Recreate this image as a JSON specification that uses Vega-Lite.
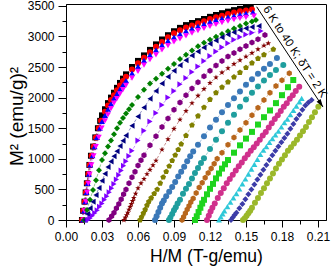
{
"$schema":"https://vega.github.io/schema/vega-lite/v6.json",
"width":260,"height":216,
"autosize":{"type":"none"},
"padding":{"left":66,"top":4,"right":8,"bottom":48},
"datasets":{
"d":[
{"t":6,"x":0.0133,"y":0},{"t":6,"x":0.0143,"y":150},{"t":6,"x":0.0154,"y":300},{"t":6,"x":0.0164,"y":450},{"t":6,"x":0.0174,"y":600},{"t":6,"x":0.0184,"y":750},{"t":6,"x":0.0195,"y":900},{"t":6,"x":0.0208,"y":1050},{"t":6,"x":0.0226,"y":1200},{"t":6,"x":0.0244,"y":1350},{"t":6,"x":0.0266,"y":1500},{"t":6,"x":0.0285,"y":1620},{"t":6,"x":0.03,"y":1710},{"t":6,"x":0.0325,"y":1810},{"t":6,"x":0.035,"y":1910},{"t":6,"x":0.0375,"y":2000},{"t":6,"x":0.04,"y":2080},{"t":6,"x":0.0425,"y":2160},{"t":6,"x":0.045,"y":2240},{"t":6,"x":0.0475,"y":2310},{"t":6,"x":0.05,"y":2380},{"t":6,"x":0.055,"y":2500},{"t":6,"x":0.06,"y":2600},{"t":6,"x":0.065,"y":2690},{"t":6,"x":0.07,"y":2780},{"t":6,"x":0.075,"y":2870},{"t":6,"x":0.08,"y":2950},{"t":6,"x":0.085,"y":3020},{"t":6,"x":0.09,"y":3085},{"t":6,"x":0.095,"y":3140},{"t":6,"x":0.1,"y":3185},{"t":6,"x":0.105,"y":3220},{"t":6,"x":0.11,"y":3250},{"t":6,"x":0.115,"y":3285},{"t":6,"x":0.12,"y":3320},{"t":6,"x":0.125,"y":3350},{"t":6,"x":0.13,"y":3380},{"t":6,"x":0.135,"y":3405},{"t":6,"x":0.14,"y":3430},{"t":6,"x":0.145,"y":3450},{"t":6,"x":0.15,"y":3468},{"t":6,"x":0.154,"y":3480},
{"t":8,"x":0.0135,"y":0},{"t":8,"x":0.0145,"y":150},{"t":8,"x":0.0156,"y":300},{"t":8,"x":0.0166,"y":450},{"t":8,"x":0.0176,"y":600},{"t":8,"x":0.0187,"y":750},{"t":8,"x":0.0197,"y":900},{"t":8,"x":0.0213,"y":1050},{"t":8,"x":0.0231,"y":1200},{"t":8,"x":0.0249,"y":1350},{"t":8,"x":0.0273,"y":1500},{"t":8,"x":0.0292,"y":1620},{"t":8,"x":0.0325,"y":1770},{"t":8,"x":0.035,"y":1870},{"t":8,"x":0.0375,"y":1960},{"t":8,"x":0.04,"y":2040},{"t":8,"x":0.0425,"y":2120},{"t":8,"x":0.045,"y":2200},{"t":8,"x":0.0475,"y":2270},{"t":8,"x":0.05,"y":2340},{"t":8,"x":0.055,"y":2460},{"t":8,"x":0.06,"y":2560},{"t":8,"x":0.065,"y":2650},{"t":8,"x":0.07,"y":2740},{"t":8,"x":0.075,"y":2830},{"t":8,"x":0.08,"y":2910},{"t":8,"x":0.085,"y":2985},{"t":8,"x":0.09,"y":3050},{"t":8,"x":0.095,"y":3100},{"t":8,"x":0.1,"y":3145},{"t":8,"x":0.105,"y":3180},{"t":8,"x":0.11,"y":3215},{"t":8,"x":0.115,"y":3250},{"t":8,"x":0.12,"y":3285},{"t":8,"x":0.125,"y":3315},{"t":8,"x":0.13,"y":3340},{"t":8,"x":0.135,"y":3365},{"t":8,"x":0.14,"y":3390},{"t":8,"x":0.145,"y":3410},{"t":8,"x":0.15,"y":3425},{"t":8,"x":0.155,"y":3440},
{"t":10,"x":0.014,"y":0},{"t":10,"x":0.015,"y":150},{"t":10,"x":0.016,"y":300},{"t":10,"x":0.0171,"y":450},{"t":10,"x":0.0181,"y":600},{"t":10,"x":0.0191,"y":750},{"t":10,"x":0.0202,"y":900},{"t":10,"x":0.022,"y":1050},{"t":10,"x":0.0238,"y":1200},{"t":10,"x":0.0258,"y":1350},{"t":10,"x":0.0282,"y":1500},{"t":10,"x":0.03,"y":1610},{"t":10,"x":0.0325,"y":1710},{"t":10,"x":0.035,"y":1810},{"t":10,"x":0.0375,"y":1900},{"t":10,"x":0.04,"y":1990},{"t":10,"x":0.0425,"y":2065},{"t":10,"x":0.045,"y":2140},{"t":10,"x":0.0475,"y":2210},{"t":10,"x":0.05,"y":2280},{"t":10,"x":0.055,"y":2400},{"t":10,"x":0.06,"y":2510},{"t":10,"x":0.065,"y":2610},{"t":10,"x":0.07,"y":2700},{"t":10,"x":0.075,"y":2780},{"t":10,"x":0.08,"y":2860},{"t":10,"x":0.085,"y":2930},{"t":10,"x":0.09,"y":2990},{"t":10,"x":0.095,"y":3040},{"t":10,"x":0.1,"y":3090},{"t":10,"x":0.105,"y":3130},{"t":10,"x":0.11,"y":3170},{"t":10,"x":0.115,"y":3205},{"t":10,"x":0.12,"y":3240},{"t":10,"x":0.125,"y":3270},{"t":10,"x":0.13,"y":3295},{"t":10,"x":0.135,"y":3320},{"t":10,"x":0.14,"y":3340},{"t":10,"x":0.145,"y":3360},{"t":10,"x":0.15,"y":3378},{"t":10,"x":0.1558,"y":3399},
{"t":12,"x":0.0145,"y":0},{"t":12,"x":0.0155,"y":150},{"t":12,"x":0.0166,"y":300},{"t":12,"x":0.0176,"y":450},{"t":12,"x":0.0186,"y":600},{"t":12,"x":0.0197,"y":750},{"t":12,"x":0.0212,"y":900},{"t":12,"x":0.023,"y":1050},{"t":12,"x":0.0249,"y":1200},{"t":12,"x":0.0273,"y":1350},{"t":12,"x":0.0297,"y":1500},{"t":12,"x":0.0325,"y":1620},{"t":12,"x":0.035,"y":1720},{"t":12,"x":0.0375,"y":1820},{"t":12,"x":0.04,"y":1910},{"t":12,"x":0.0425,"y":1985},{"t":12,"x":0.045,"y":2060},{"t":12,"x":0.0475,"y":2130},{"t":12,"x":0.05,"y":2200},{"t":12,"x":0.055,"y":2320},{"t":12,"x":0.06,"y":2430},{"t":12,"x":0.065,"y":2530},{"t":12,"x":0.07,"y":2620},{"t":12,"x":0.075,"y":2700},{"t":12,"x":0.08,"y":2780},{"t":12,"x":0.085,"y":2850},{"t":12,"x":0.09,"y":2910},{"t":12,"x":0.095,"y":2960},{"t":12,"x":0.1,"y":3010},{"t":12,"x":0.105,"y":3055},{"t":12,"x":0.11,"y":3095},{"t":12,"x":0.115,"y":3130},{"t":12,"x":0.12,"y":3165},{"t":12,"x":0.125,"y":3195},{"t":12,"x":0.13,"y":3225},{"t":12,"x":0.135,"y":3250},{"t":12,"x":0.14,"y":3275},{"t":12,"x":0.145,"y":3295},{"t":12,"x":0.15,"y":3312},{"t":12,"x":0.1567,"y":3333},
{"t":14,"x":0.015,"y":0},{"t":14,"x":0.0175,"y":165},{"t":14,"x":0.02,"y":330},{"t":14,"x":0.0225,"y":490},{"t":14,"x":0.025,"y":650},{"t":14,"x":0.0275,"y":815},{"t":14,"x":0.03,"y":980},{"t":14,"x":0.0325,"y":1090},{"t":14,"x":0.035,"y":1200},{"t":14,"x":0.0375,"y":1300},{"t":14,"x":0.04,"y":1400},{"t":14,"x":0.0425,"y":1500},{"t":14,"x":0.045,"y":1590},{"t":14,"x":0.0475,"y":1665},{"t":14,"x":0.05,"y":1740},{"t":14,"x":0.0525,"y":1810},{"t":14,"x":0.055,"y":1880},{"t":14,"x":0.06,"y":2010},{"t":14,"x":0.065,"y":2130},{"t":14,"x":0.07,"y":2230},{"t":14,"x":0.075,"y":2310},{"t":14,"x":0.08,"y":2390},{"t":14,"x":0.085,"y":2470},{"t":14,"x":0.09,"y":2550},{"t":14,"x":0.095,"y":2630},{"t":14,"x":0.1,"y":2700},{"t":14,"x":0.105,"y":2770},{"t":14,"x":0.11,"y":2840},{"t":14,"x":0.115,"y":2895},{"t":14,"x":0.12,"y":2945},{"t":14,"x":0.125,"y":2995},{"t":14,"x":0.13,"y":3040},{"t":14,"x":0.135,"y":3085},{"t":14,"x":0.14,"y":3130},{"t":14,"x":0.145,"y":3170},{"t":14,"x":0.15,"y":3210},{"t":14,"x":0.155,"y":3245},{"t":14,"x":0.1583,"y":3268},
{"t":16,"x":0.0158,"y":0},{"t":16,"x":0.018,"y":100},{"t":16,"x":0.02,"y":190},{"t":16,"x":0.0225,"y":300},{"t":16,"x":0.025,"y":410},{"t":16,"x":0.0275,"y":525},{"t":16,"x":0.03,"y":640},{"t":16,"x":0.0325,"y":755},{"t":16,"x":0.035,"y":866},{"t":16,"x":0.0375,"y":955},{"t":16,"x":0.04,"y":1040},{"t":16,"x":0.0425,"y":1125},{"t":16,"x":0.045,"y":1210},{"t":16,"x":0.0475,"y":1295},{"t":16,"x":0.05,"y":1380},{"t":16,"x":0.055,"y":1540},{"t":16,"x":0.06,"y":1690},{"t":16,"x":0.065,"y":1840},{"t":16,"x":0.07,"y":1980},{"t":16,"x":0.075,"y":2110},{"t":16,"x":0.08,"y":2230},{"t":16,"x":0.085,"y":2340},{"t":16,"x":0.09,"y":2440},{"t":16,"x":0.095,"y":2530},{"t":16,"x":0.1,"y":2610},{"t":16,"x":0.105,"y":2690},{"t":16,"x":0.11,"y":2755},{"t":16,"x":0.115,"y":2820},{"t":16,"x":0.12,"y":2880},{"t":16,"x":0.125,"y":2935},{"t":16,"x":0.13,"y":2985},{"t":16,"x":0.135,"y":3030},{"t":16,"x":0.14,"y":3070},{"t":16,"x":0.145,"y":3105},{"t":16,"x":0.15,"y":3135},{"t":16,"x":0.155,"y":3155},{"t":16,"x":0.1608,"y":3170},
{"t":18,"x":0.0183,"y":0},{"t":18,"x":0.02,"y":30},{"t":18,"x":0.022,"y":70},{"t":18,"x":0.024,"y":115},{"t":18,"x":0.026,"y":160},{"t":18,"x":0.028,"y":215},{"t":18,"x":0.03,"y":270},{"t":18,"x":0.032,"y":330},{"t":18,"x":0.034,"y":390},{"t":18,"x":0.036,"y":455},{"t":18,"x":0.038,"y":520},{"t":18,"x":0.04,"y":590},{"t":18,"x":0.042,"y":660},{"t":18,"x":0.044,"y":735},{"t":18,"x":0.046,"y":810},{"t":18,"x":0.048,"y":885},{"t":18,"x":0.05,"y":960},{"t":18,"x":0.0525,"y":1045},{"t":18,"x":0.055,"y":1130},{"t":18,"x":0.06,"y":1300},{"t":18,"x":0.065,"y":1460},{"t":18,"x":0.07,"y":1610},{"t":18,"x":0.075,"y":1750},{"t":18,"x":0.08,"y":1880},{"t":18,"x":0.085,"y":2000},{"t":18,"x":0.09,"y":2110},{"t":18,"x":0.095,"y":2220},{"t":18,"x":0.1,"y":2320},{"t":18,"x":0.105,"y":2420},{"t":18,"x":0.11,"y":2510},{"t":18,"x":0.115,"y":2600},{"t":18,"x":0.12,"y":2680},{"t":18,"x":0.125,"y":2755},{"t":18,"x":0.13,"y":2825},{"t":18,"x":0.135,"y":2890},{"t":18,"x":0.14,"y":2945},{"t":18,"x":0.145,"y":2990},{"t":18,"x":0.15,"y":3030},{"t":18,"x":0.155,"y":3060},{"t":18,"x":0.1625,"y":3088},
{"t":20,"x":0.0358,"y":0},{"t":20,"x":0.038,"y":60},{"t":20,"x":0.04,"y":120},{"t":20,"x":0.042,"y":190},{"t":20,"x":0.044,"y":260},{"t":20,"x":0.046,"y":340},{"t":20,"x":0.048,"y":420},{"t":20,"x":0.05,"y":500},{"t":20,"x":0.0525,"y":600},{"t":20,"x":0.055,"y":700},{"t":20,"x":0.0575,"y":790},{"t":20,"x":0.06,"y":890},{"t":20,"x":0.0625,"y":975},{"t":20,"x":0.065,"y":1060},{"t":20,"x":0.07,"y":1220},{"t":20,"x":0.075,"y":1370},{"t":20,"x":0.08,"y":1520},{"t":20,"x":0.085,"y":1660},{"t":20,"x":0.09,"y":1800},{"t":20,"x":0.095,"y":1920},{"t":20,"x":0.1,"y":2040},{"t":20,"x":0.105,"y":2150},{"t":20,"x":0.11,"y":2250},{"t":20,"x":0.115,"y":2350},{"t":20,"x":0.12,"y":2440},{"t":20,"x":0.125,"y":2525},{"t":20,"x":0.13,"y":2600},{"t":20,"x":0.135,"y":2670},{"t":20,"x":0.14,"y":2730},{"t":20,"x":0.145,"y":2790},{"t":20,"x":0.15,"y":2845},{"t":20,"x":0.155,"y":2900},{"t":20,"x":0.16,"y":2955},{"t":20,"x":0.1658,"y":3023},
{"t":22,"x":0.0483,"y":0},{"t":22,"x":0.0495,"y":40},{"t":22,"x":0.0505,"y":80},{"t":22,"x":0.0515,"y":120},{"t":22,"x":0.0525,"y":170},{"t":22,"x":0.0535,"y":215},{"t":22,"x":0.0545,"y":260},{"t":22,"x":0.0555,"y":310},{"t":22,"x":0.0565,"y":360},{"t":22,"x":0.058,"y":430},{"t":22,"x":0.06,"y":520},{"t":22,"x":0.0625,"y":600},{"t":22,"x":0.065,"y":670},{"t":22,"x":0.0675,"y":750},{"t":22,"x":0.07,"y":820},{"t":22,"x":0.0725,"y":895},{"t":22,"x":0.075,"y":970},{"t":22,"x":0.08,"y":1150},{"t":22,"x":0.085,"y":1320},{"t":22,"x":0.09,"y":1490},{"t":22,"x":0.095,"y":1640},{"t":22,"x":0.1,"y":1780},{"t":22,"x":0.105,"y":1910},{"t":22,"x":0.11,"y":2030},{"t":22,"x":0.115,"y":2140},{"t":22,"x":0.12,"y":2240},{"t":22,"x":0.125,"y":2330},{"t":22,"x":0.13,"y":2410},{"t":22,"x":0.135,"y":2480},{"t":22,"x":0.14,"y":2550},{"t":22,"x":0.145,"y":2610},{"t":22,"x":0.15,"y":2670},{"t":22,"x":0.155,"y":2730},{"t":22,"x":0.16,"y":2790},{"t":22,"x":0.165,"y":2850},{"t":22,"x":0.1686,"y":2887},
{"t":24,"x":0.0617,"y":0},{"t":24,"x":0.063,"y":50},{"t":24,"x":0.0645,"y":110},{"t":24,"x":0.066,"y":170},{"t":24,"x":0.0675,"y":240},{"t":24,"x":0.069,"y":300},{"t":24,"x":0.071,"y":360},{"t":24,"x":0.0735,"y":430},{"t":24,"x":0.076,"y":500},{"t":24,"x":0.0785,"y":600},{"t":24,"x":0.081,"y":700},{"t":24,"x":0.0835,"y":790},{"t":24,"x":0.086,"y":880},{"t":24,"x":0.0885,"y":970},{"t":24,"x":0.091,"y":1060},{"t":24,"x":0.0935,"y":1150},{"t":24,"x":0.096,"y":1240},{"t":24,"x":0.1,"y":1380},{"t":24,"x":0.105,"y":1550},{"t":24,"x":0.11,"y":1700},{"t":24,"x":0.115,"y":1840},{"t":24,"x":0.12,"y":1970},{"t":24,"x":0.125,"y":2080},{"t":24,"x":0.13,"y":2170},{"t":24,"x":0.135,"y":2255},{"t":24,"x":0.14,"y":2335},{"t":24,"x":0.145,"y":2410},{"t":24,"x":0.15,"y":2490},{"t":24,"x":0.155,"y":2565},{"t":24,"x":0.16,"y":2640},{"t":24,"x":0.165,"y":2700},{"t":24,"x":0.1728,"y":2789},
{"t":26,"x":0.0742,"y":0},{"t":26,"x":0.0755,"y":60},{"t":26,"x":0.077,"y":130},{"t":26,"x":0.0785,"y":200},{"t":26,"x":0.08,"y":270},{"t":26,"x":0.0815,"y":320},{"t":26,"x":0.0835,"y":390},{"t":26,"x":0.086,"y":460},{"t":26,"x":0.0885,"y":540},{"t":26,"x":0.091,"y":620},{"t":26,"x":0.0935,"y":710},{"t":26,"x":0.096,"y":790},{"t":26,"x":0.0985,"y":870},{"t":26,"x":0.101,"y":960},{"t":26,"x":0.1035,"y":1040},{"t":26,"x":0.106,"y":1120},{"t":26,"x":0.11,"y":1230},{"t":26,"x":0.115,"y":1370},{"t":26,"x":0.12,"y":1510},{"t":26,"x":0.125,"y":1640},{"t":26,"x":0.13,"y":1760},{"t":26,"x":0.135,"y":1880},{"t":26,"x":0.14,"y":1990},{"t":26,"x":0.145,"y":2100},{"t":26,"x":0.15,"y":2210},{"t":26,"x":0.155,"y":2300},{"t":26,"x":0.16,"y":2390},{"t":26,"x":0.165,"y":2470},{"t":26,"x":0.17,"y":2550},{"t":26,"x":0.1758,"y":2647},
{"t":28,"x":0.0858,"y":0},{"t":28,"x":0.087,"y":40},{"t":28,"x":0.0885,"y":100},{"t":28,"x":0.09,"y":160},{"t":28,"x":0.0915,"y":210},{"t":28,"x":0.093,"y":270},{"t":28,"x":0.095,"y":330},{"t":28,"x":0.0975,"y":430},{"t":28,"x":0.1,"y":510},{"t":28,"x":0.1025,"y":590},{"t":28,"x":0.105,"y":680},{"t":28,"x":0.1075,"y":770},{"t":28,"x":0.11,"y":850},{"t":28,"x":0.1125,"y":930},{"t":28,"x":0.115,"y":1010},{"t":28,"x":0.12,"y":1160},{"t":28,"x":0.125,"y":1310},{"t":28,"x":0.13,"y":1450},{"t":28,"x":0.135,"y":1590},{"t":28,"x":0.14,"y":1720},{"t":28,"x":0.145,"y":1850},{"t":28,"x":0.15,"y":1970},{"t":28,"x":0.155,"y":2080},{"t":28,"x":0.16,"y":2180},{"t":28,"x":0.165,"y":2280},{"t":28,"x":0.17,"y":2370},{"t":28,"x":0.175,"y":2450},{"t":28,"x":0.1811,"y":2533},
{"t":30,"x":0.0967,"y":0},{"t":30,"x":0.098,"y":50},{"t":30,"x":0.0995,"y":110},{"t":30,"x":0.101,"y":170},{"t":30,"x":0.1025,"y":230},{"t":30,"x":0.104,"y":290},{"t":30,"x":0.106,"y":350},{"t":30,"x":0.1085,"y":440},{"t":30,"x":0.111,"y":530},{"t":30,"x":0.1135,"y":610},{"t":30,"x":0.116,"y":690},{"t":30,"x":0.1185,"y":770},{"t":30,"x":0.121,"y":840},{"t":30,"x":0.1235,"y":920},{"t":30,"x":0.126,"y":1000},{"t":30,"x":0.13,"y":1100},{"t":30,"x":0.135,"y":1230},{"t":30,"x":0.14,"y":1350},{"t":30,"x":0.145,"y":1470},{"t":30,"x":0.15,"y":1590},{"t":30,"x":0.155,"y":1710},{"t":30,"x":0.16,"y":1835},{"t":30,"x":0.165,"y":1960},{"t":30,"x":0.17,"y":2080},{"t":30,"x":0.175,"y":2190},{"t":30,"x":0.18,"y":2285},{"t":30,"x":0.1861,"y":2397},
{"t":32,"x":0.1075,"y":0},{"t":32,"x":0.109,"y":60},{"t":32,"x":0.1105,"y":130},{"t":32,"x":0.112,"y":200},{"t":32,"x":0.1135,"y":270},{"t":32,"x":0.115,"y":330},{"t":32,"x":0.1175,"y":420},{"t":32,"x":0.12,"y":510},{"t":32,"x":0.1225,"y":590},{"t":32,"x":0.125,"y":680},{"t":32,"x":0.1275,"y":760},{"t":32,"x":0.13,"y":840},{"t":32,"x":0.1325,"y":910},{"t":32,"x":0.135,"y":980},{"t":32,"x":0.14,"y":1100},{"t":32,"x":0.145,"y":1220},{"t":32,"x":0.15,"y":1330},{"t":32,"x":0.155,"y":1440},{"t":32,"x":0.16,"y":1560},{"t":32,"x":0.165,"y":1680},{"t":32,"x":0.17,"y":1790},{"t":32,"x":0.175,"y":1910},{"t":32,"x":0.18,"y":2040},{"t":32,"x":0.185,"y":2170},{"t":32,"x":0.1894,"y":2288},
{"t":34,"x":0.1175,"y":0},{"t":34,"x":0.119,"y":70},{"t":34,"x":0.1205,"y":140},{"t":34,"x":0.122,"y":200},{"t":34,"x":0.124,"y":270},{"t":34,"x":0.1265,"y":360},{"t":34,"x":0.129,"y":440},{"t":34,"x":0.1315,"y":520},{"t":34,"x":0.134,"y":600},{"t":34,"x":0.1365,"y":670},{"t":34,"x":0.139,"y":740},{"t":34,"x":0.1415,"y":810},{"t":34,"x":0.144,"y":880},{"t":34,"x":0.1465,"y":940},{"t":34,"x":0.149,"y":1010},{"t":34,"x":0.1515,"y":1070},{"t":34,"x":0.154,"y":1130},{"t":34,"x":0.1565,"y":1190},{"t":34,"x":0.159,"y":1250},{"t":34,"x":0.1615,"y":1310},{"t":34,"x":0.164,"y":1380},{"t":34,"x":0.1665,"y":1440},{"t":34,"x":0.169,"y":1510},{"t":34,"x":0.1715,"y":1580},{"t":34,"x":0.174,"y":1650},{"t":34,"x":0.1765,"y":1710},{"t":34,"x":0.179,"y":1780},{"t":34,"x":0.1815,"y":1850},{"t":34,"x":0.184,"y":1910},{"t":34,"x":0.1865,"y":1980},{"t":34,"x":0.189,"y":2040},{"t":34,"x":0.1915,"y":2110},{"t":34,"x":0.1944,"y":2178},
{"t":36,"x":0.1275,"y":0},{"t":36,"x":0.129,"y":50},{"t":36,"x":0.1305,"y":100},{"t":36,"x":0.132,"y":150},{"t":36,"x":0.1345,"y":220},{"t":36,"x":0.137,"y":290},{"t":36,"x":0.1395,"y":360},{"t":36,"x":0.142,"y":430},{"t":36,"x":0.1445,"y":510},{"t":36,"x":0.147,"y":590},{"t":36,"x":0.1495,"y":670},{"t":36,"x":0.152,"y":750},{"t":36,"x":0.1545,"y":830},{"t":36,"x":0.157,"y":910},{"t":36,"x":0.1595,"y":990},{"t":36,"x":0.162,"y":1070},{"t":36,"x":0.1645,"y":1140},{"t":36,"x":0.167,"y":1200},{"t":36,"x":0.1695,"y":1270},{"t":36,"x":0.172,"y":1330},{"t":36,"x":0.1745,"y":1390},{"t":36,"x":0.177,"y":1450},{"t":36,"x":0.1795,"y":1520},{"t":36,"x":0.182,"y":1590},{"t":36,"x":0.1845,"y":1650},{"t":36,"x":0.187,"y":1720},{"t":36,"x":0.1895,"y":1790},{"t":36,"x":0.192,"y":1860},{"t":36,"x":0.1945,"y":1930},{"t":36,"x":0.1964,"y":1989},
{"t":38,"x":0.1375,"y":0},{"t":38,"x":0.139,"y":40},{"t":38,"x":0.1405,"y":80},{"t":38,"x":0.142,"y":120},{"t":38,"x":0.1445,"y":190},{"t":38,"x":0.147,"y":260},{"t":38,"x":0.1495,"y":340},{"t":38,"x":0.152,"y":420},{"t":38,"x":0.1545,"y":500},{"t":38,"x":0.157,"y":580},{"t":38,"x":0.1595,"y":660},{"t":38,"x":0.162,"y":740},{"t":38,"x":0.1645,"y":820},{"t":38,"x":0.167,"y":900},{"t":38,"x":0.1695,"y":980},{"t":38,"x":0.172,"y":1060},{"t":38,"x":0.1745,"y":1130},{"t":38,"x":0.177,"y":1200},{"t":38,"x":0.1795,"y":1270},{"t":38,"x":0.182,"y":1340},{"t":38,"x":0.1845,"y":1410},{"t":38,"x":0.187,"y":1490},{"t":38,"x":0.1895,"y":1570},{"t":38,"x":0.192,"y":1650},{"t":38,"x":0.1945,"y":1720},{"t":38,"x":0.197,"y":1800},{"t":38,"x":0.1995,"y":1870},{"t":38,"x":0.202,"y":1920},{"t":38,"x":0.2047,"y":1961},
{"t":40,"x":0.1475,"y":0},{"t":40,"x":0.149,"y":30},{"t":40,"x":0.1505,"y":70},{"t":40,"x":0.152,"y":110},{"t":40,"x":0.1535,"y":150},{"t":40,"x":0.155,"y":200},{"t":40,"x":0.1575,"y":280},{"t":40,"x":0.16,"y":360},{"t":40,"x":0.1625,"y":440},{"t":40,"x":0.165,"y":520},{"t":40,"x":0.1675,"y":600},{"t":40,"x":0.17,"y":680},{"t":40,"x":0.1725,"y":760},{"t":40,"x":0.175,"y":840},{"t":40,"x":0.1775,"y":920},{"t":40,"x":0.18,"y":990},{"t":40,"x":0.1825,"y":1060},{"t":40,"x":0.185,"y":1130},{"t":40,"x":0.1875,"y":1190},{"t":40,"x":0.19,"y":1250},{"t":40,"x":0.1925,"y":1310},{"t":40,"x":0.195,"y":1380},{"t":40,"x":0.1975,"y":1450},{"t":40,"x":0.2,"y":1520},{"t":40,"x":0.2025,"y":1600},{"t":40,"x":0.205,"y":1680},{"t":40,"x":0.2075,"y":1760},{"t":40,"x":0.2103,"y":1851}
],
"arrow":[{"x":0.1589,"y":3485,"x2":0.2142,"y2":1846}],
"label":[{"x":0.1905,"y":2745,"text":"6 K to 40 K; δT = 2 K"}]
},
"layer":[
{"data":{"name":"d"},
 "mark":{"type":"line","strokeWidth":0.8,"strokeDash":[3,2],"opacity":0.55},
 "encoding":{
  "x":{"field":"x","type":"quantitative","scale":{"domain":[0,0.2167],"nice":false,"zero":false},
   "axis":{"orient":"bottom","values":[0.015,0.045,0.075,0.105,0.135,0.165,0.195],"labels":false,"domain":false,"grid":false,"tickSize":4,"title":null}},
  "y":{"field":"y","type":"quantitative","scale":{"domain":[0,3530],"nice":false,"zero":false},
   "axis":{"orient":"left","values":[250,750,1250,1750,2250,2750,3250],"labels":false,"domain":false,"grid":false,"tickSize":4,"title":null}},
  "color":{"field":"t","type":"nominal","legend":null,
   "scale":{"domain":[6,8,10,12,14,16,18,20,22,24,26,28,30,32,34,36,38,40],
    "range":["#000000","#ff0000","#0000ff","#ff00ff","#008000","#000080","#8000ff","#800080","#800000","#808000","#3a78b8","#1f9e9e","#b8661c","#1ed41e","#d0308c","#2ec8d8","#3c3ca8","#9bb82a"]}}
 }},
{"data":{"name":"d"},
 "mark":{"type":"point","filled":true,"size":36,"opacity":1,"strokeWidth":0},
 "encoding":{
  "x":{"field":"x","type":"quantitative","scale":{"domain":[0,0.2167],"nice":false,"zero":false},
   "axis":{"orient":"bottom","values":[0,0.03,0.06,0.09,0.12,0.15,0.18,0.21],"format":".2f","tickSize":7,"labelPadding":4,"labelFlush":false,"grid":false,
    "title":"H/M (T-g/emu)","titleFontSize":17.5,"titleX":140,"titleY":41,"titleBaseline":"alphabetic","titleAlign":"center","titleAnchor":"middle"}},
  "y":{"field":"y","type":"quantitative","scale":{"domain":[0,3530],"nice":false,"zero":false},
   "axis":{"orient":"left","values":[0,500,1000,1500,2000,2500,3000,3500],"format":"d","tickSize":8,"labelPadding":4,"labelFlush":false,"grid":false,
    "title":"M² (emu/g)²","titleFontSize":19,"titleX":-44,"titleY":112,"titleAngle":-90,"titleBaseline":"alphabetic","titleAlign":"center","titleAnchor":"middle"}},
  "color":{"field":"t","type":"nominal","legend":null,
   "scale":{"domain":[6,8,10,12,14,16,18,20,22,24,26,28,30,32,34,36,38,40],
    "range":["#000000","#ff0000","#0000ff","#ff00ff","#008000","#000080","#8000ff","#800080","#800000","#808000","#3a78b8","#1f9e9e","#b8661c","#1ed41e","#d0308c","#2ec8d8","#3c3ca8","#9bb82a"]}},
  "shape":{"field":"t","type":"nominal","legend":null,
   "scale":{"domain":[6,8,10,12,14,16,18,20,22,24,26,28,30,32,34,36,38,40],
    "range":["square","circle","triangle-up","triangle-down","diamond","triangle-left","triangle-right",
     "M0,-1L0.866,-0.5L0.866,0.5L0,1L-0.866,0.5L-0.866,-0.5Z",
     "M0,-1L0.235,-0.324L0.951,-0.309L0.38,0.124L0.588,0.809L0,0.4L-0.588,0.809L-0.38,0.124L-0.951,-0.309L-0.235,-0.324Z",
     "M0,-1L0.951,-0.309L0.588,0.809L-0.588,0.809L-0.951,-0.309Z",
     "circle","circle",
     "M0,-1L0.866,-0.5L0.866,0.5L0,1L-0.866,0.5L-0.866,-0.5Z",
     "square","circle","triangle-up","diamond","circle"]}}
 }},
{"data":{"name":"arrow"},
 "mark":{"type":"rule","color":"black","strokeWidth":1},
 "encoding":{
  "x":{"field":"x","type":"quantitative","scale":{"domain":[0,0.2167],"nice":false,"zero":false},"axis":null},
  "y":{"field":"y","type":"quantitative","scale":{"domain":[0,3530],"nice":false,"zero":false},"axis":null},
  "x2":{"field":"x2"},"y2":{"field":"y2"}}},
{"data":{"name":"arrow"},
 "mark":{"type":"point","filled":true,"opacity":1,"color":"black","size":64,"angle":-33.4,"shape":"M0,0L-0.6,-2L0.6,-2Z","strokeWidth":0},
 "encoding":{
  "x":{"field":"x2","type":"quantitative","scale":{"domain":[0,0.2167],"nice":false,"zero":false},"axis":null},
  "y":{"field":"y2","type":"quantitative","scale":{"domain":[0,3530],"nice":false,"zero":false},"axis":null}}},
{"data":{"name":"label"},
 "mark":{"type":"text","angle":56.6,"fontSize":11.5,"font":"Liberation Sans","align":"center","baseline":"middle","color":"black"},
 "encoding":{
  "x":{"field":"x","type":"quantitative","scale":{"domain":[0,0.2167],"nice":false,"zero":false},"axis":null},
  "y":{"field":"y","type":"quantitative","scale":{"domain":[0,3530],"nice":false,"zero":false},"axis":null},
  "text":{"field":"text"}}}
],
"resolve":{"axis":{"x":"independent","y":"independent"}},
"config":{
 "view":{"stroke":"black","strokeWidth":1},
 "axis":{"domainColor":"black","tickColor":"black","labelColor":"black","titleColor":"black","labelFont":"Liberation Sans","titleFont":"Liberation Sans","labelFontSize":12,"titleFontWeight":"normal","grid":false,"domainWidth":1,"tickWidth":1}
}
}
